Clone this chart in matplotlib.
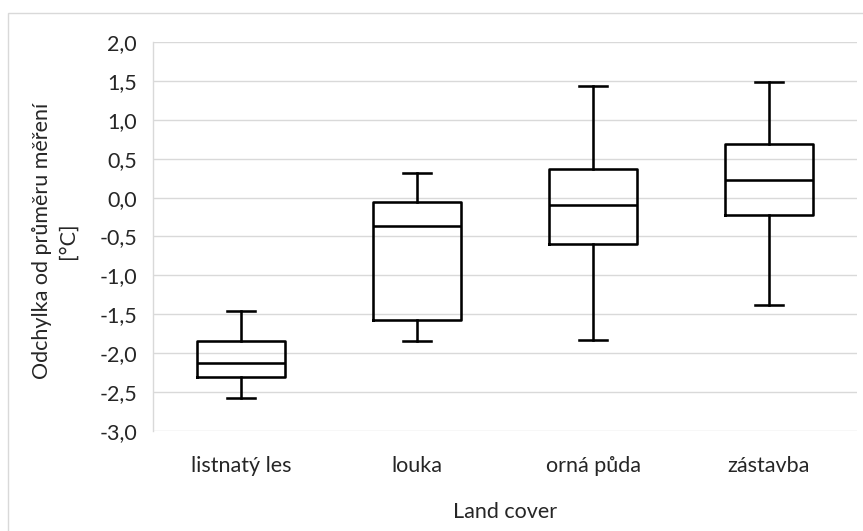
import matplotlib
matplotlib.use("Agg")
import matplotlib.pyplot as plt
from matplotlib.patches import Rectangle
from matplotlib.ticker import FuncFormatter

plt.rcParams['font.family'] = ['Lato', 'DejaVu Sans']

# Box plot summary per land-cover class
categories = ["listnatý les", "louka", "orná půda", "zástavba"]
whisker_low = [-2.58, -1.84, -1.83, -1.38]
q1 = [-2.30, -1.57, -0.60, -0.22]
median = [-2.13, -0.37, -0.10, 0.23]
q3 = [-1.84, -0.06, 0.37, 0.69]
whisker_high = [-1.46, 0.32, 1.44, 1.49]
y_ticks = [-3.0, -2.5, -2.0, -1.5, -1.0, -0.5, 0.0, 0.5, 1.0, 1.5, 2.0]

W, H = 863, 531
FS = 15.5
TXT = "#262626"
fig = plt.figure(figsize=(W / 100, H / 100), dpi=100)
fig.patch.set_facecolor("white")

# light outer chart frame
fig.add_artist(Rectangle((8 / W, -0.1), 1.2, (H - 13) / H + 0.1,
                         transform=fig.transFigure, fill=False,
                         edgecolor="#d9d9d9", linewidth=1.0))

ax = fig.add_axes([153 / W, (H - 431) / H, (857 - 153) / W, (431 - 42) / H])

stats = []
for i, name in enumerate(categories):
    stats.append(dict(label=name, whislo=whisker_low[i], q1=q1[i],
                      med=median[i], q3=q3[i], whishi=whisker_high[i],
                      fliers=[]))

lw = 1.85
ax.bxp(stats, positions=range(len(categories)), widths=0.505,
       capwidths=0.155, showfliers=False, patch_artist=False,
       boxprops=dict(color="black", linewidth=lw),
       medianprops=dict(color="black", linewidth=lw),
       whiskerprops=dict(color="black", linewidth=lw),
       capprops=dict(color="black", linewidth=lw))

ax.set_xlim(-0.5, len(categories) - 0.5)
ax.set_ylim(-3.0, 2.0)
ax.set_yticks(y_ticks)
ax.yaxis.set_major_formatter(FuncFormatter(lambda v, p: f"{v:.1f}".replace(".", ",")))
ax.set_xticks(range(len(categories)))
ax.set_xticklabels(categories)

ax.grid(axis="y", color="#d9d9d9", linewidth=1.0)
ax.set_axisbelow(True)
for side in ["top", "right", "bottom"]:
    ax.spines[side].set_visible(False)
ax.spines["left"].set_color("#d9d9d9")
ax.spines["left"].set_linewidth(1.0)

ax.tick_params(axis="both", length=0, labelsize=FS, colors=TXT)
ax.tick_params(axis="x", pad=29.5)
ax.tick_params(axis="y", pad=11.5)
for lab in ax.get_xticklabels():
    lab.set_verticalalignment("baseline")

ax.set_xlabel("Land cover", fontsize=FS, color=TXT)
ax.xaxis.label.set_verticalalignment("baseline")
ax.xaxis.set_label_coords(0.5, (431 - 518) / 389)

ax.set_ylabel("Odchylka od průměru měření\n[°C]", fontsize=FS,
              color=TXT, linespacing=1.35)
ax.yaxis.label.set_verticalalignment("center")
ax.yaxis.set_label_coords((55 - 153) / 704, 0.49)

fig.savefig("out.png", dpi=100)
